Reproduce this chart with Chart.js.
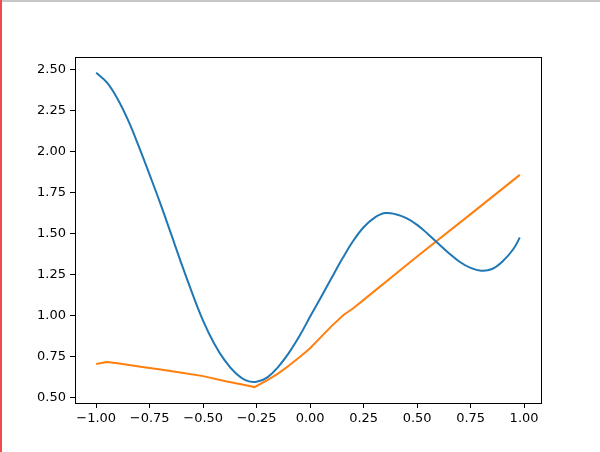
<!DOCTYPE html>
<html>
<head>
<meta charset="utf-8">
<style>
  html, body { margin: 0; padding: 0; background: #fff; }
  #wrap { position: relative; width: 600px; height: 452px; }
  /* screenshot edges seen in the reference */
  .edge-top { position: absolute; left: 0; top: 0; width: 600px; height: 2px; background: #c8c8c8; }
  .edge-left { position: absolute; left: 0; top: 0; width: 2px; height: 452px; background: #f04a4a; }
</style>
<script src="https://cdn.jsdelivr.net/npm/chart.js@4"></script>
</head>
<body>
<div id="wrap">
  <canvas id="chart" width="600" height="452"></canvas>
  <div class="edge-top"></div>
  <div class="edge-left"></div>
</div>
<script>
// 데이터
const blueX = [-1.00, -0.95, -0.90, -0.85, -0.80, -0.75, -0.70, -0.65, -0.60, -0.55,
               -0.50, -0.45, -0.40, -0.35, -0.30, -0.25, -0.20, -0.15, -0.10, -0.05,
                0.00,  0.05,  0.10,  0.15,  0.20,  0.25,  0.30,  0.35,  0.40,  0.45,
                0.50,  0.55,  0.60,  0.65,  0.70,  0.75,  0.80,  0.85,  0.90,  0.95, 0.98];
const blueY = [2.480, 2.421, 2.320, 2.188, 2.028, 1.857, 1.682, 1.497, 1.310, 1.132,
               0.967, 0.832, 0.727, 0.650, 0.604, 0.595, 0.622, 0.685, 0.770, 0.874,
               0.993, 1.110, 1.228, 1.345, 1.452, 1.538, 1.595, 1.624, 1.617, 1.593,
               1.552, 1.497, 1.437, 1.378, 1.326, 1.290, 1.273, 1.283, 1.330, 1.405, 1.475];

const orangeX = [-1.00, -0.95, -0.90, -0.80, -0.70, -0.60, -0.50, -0.40, -0.30, -0.26,
                 -0.20, -0.15, -0.10, -0.05, 0.00, 0.05, 0.10, 0.156, 0.20, 0.25, 0.50, 0.75, 0.98];
const orangeY = [0.704, 0.716, 0.708, 0.689, 0.670, 0.651, 0.630, 0.600, 0.574, 0.563,
                 0.606, 0.645, 0.693, 0.745, 0.800, 0.868, 0.935, 1.003, 1.042, 1.095, 1.359, 1.618, 1.857];

const xTicks = [-1.00, -0.75, -0.50, -0.25, 0.00, 0.25, 0.50, 0.75, 1.00];
const yTicks = [0.50, 0.75, 1.00, 1.25, 1.50, 1.75, 2.00, 2.25, 2.50];
const xRange = [-1.099, 1.079];
const yRange = [0.466, 2.576];

const toPoints = (xs, ys) => xs.map((x, i) => ({ x: x, y: ys[i] }));
const fmt = v => v.toFixed(2).replace('-', '\u2212');

// 축 상자 (matplotlib 스타일 테두리)
const frame = {
  id: 'frame',
  afterDraw(chart) {
    const a = chart.chartArea;
    const ctx = chart.ctx;
    ctx.save();
    ctx.strokeStyle = '#000';
    ctx.lineWidth = 1;
    ctx.strokeRect(Math.round(a.left) + 0.5, Math.round(a.top) + 0.5,
                   Math.round(a.right - a.left), Math.round(a.bottom - a.top));
    ctx.restore();
  }
};

const tickFont = { family: 'DejaVu Sans', size: 13 };

new Chart(document.getElementById('chart').getContext('2d'), {
  type: 'line',
  data: {
    datasets: [{
      data: toPoints(blueX, blueY),
      borderColor: '#1f77b4',
      borderWidth: 2,
      pointRadius: 0,
      tension: 0.4
    }, {
      data: toPoints(orangeX, orangeY),
      borderColor: '#ff7f0e',
      borderWidth: 2,
      pointRadius: 0,
      tension: 0
    }]
  },
  options: {
    responsive: false,
    animation: false,
    layout: { padding: { top: 57, right: 59, left: 0, bottom: 0 } },
    plugins: { legend: { display: false }, tooltip: { enabled: false } },
    scales: {
      x: {
        type: 'linear',
        min: xRange[0],
        max: xRange[1],
        afterBuildTicks: axis => { axis.ticks = xTicks.map(v => ({ value: v })); },
        afterFit: axis => { axis.height = 49; },
        grid: { drawOnChartArea: false, drawTicks: true, tickLength: 5, tickColor: '#000' },
        border: { display: false },
        ticks: { font: tickFont, color: '#000', padding: 3, maxRotation: 0, autoSkip: false,
                 callback: v => fmt(v) }
      },
      y: {
        type: 'linear',
        min: yRange[0],
        max: yRange[1],
        afterBuildTicks: axis => { axis.ticks = yTicks.map(v => ({ value: v })); },
        afterFit: axis => { axis.width = 75; },
        grid: { drawOnChartArea: false, drawTicks: true, tickLength: 5, tickColor: '#000' },
        border: { display: false },
        ticks: { font: tickFont, color: '#000', padding: 4, autoSkip: false,
                 callback: v => fmt(v) }
      }
    }
  },
  plugins: [frame]
});
</script>
</body>
</html>
